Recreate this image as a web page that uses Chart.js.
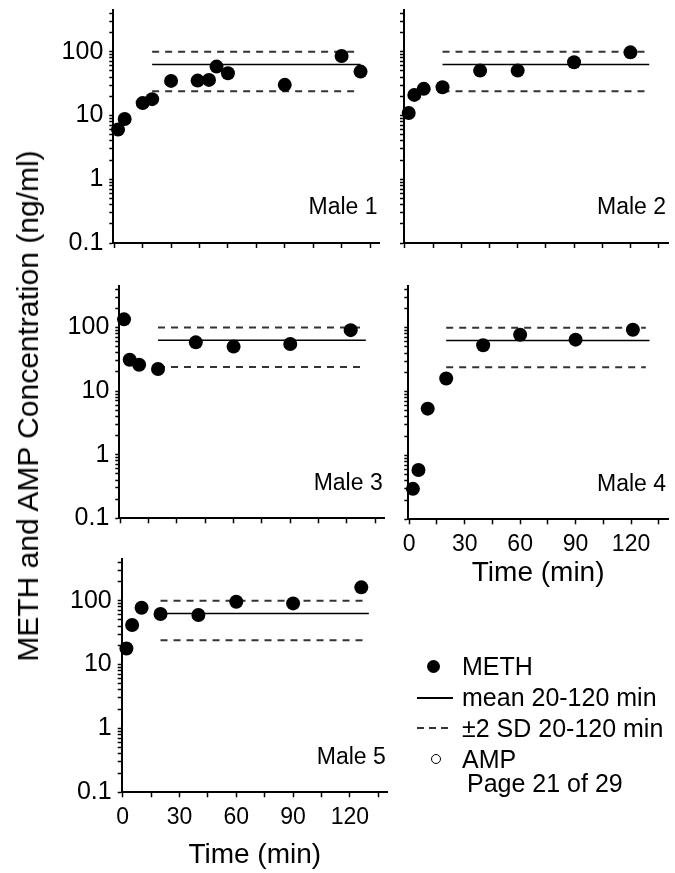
<!DOCTYPE html>
<html>
<head>
<meta charset="utf-8">
<script src="https://cdn.jsdelivr.net/npm/chart.js@4.4.1/dist/chart.umd.min.js"></script>
<style>
  body { margin: 0; background: #fff; font-family: "Liberation Sans", Arial, sans-serif; color: #000; }
  #page { position: relative; width: 675px; height: 873px; overflow: hidden; }
  #page canvas { position: absolute; left: 0; top: 0; }
  .ytitle { position: absolute; left: 28px; top: 406px; transform: translate(-50%, -50%) rotate(-90deg);
            font-size: 30px; line-height: 30px; white-space: nowrap; }
  .lg { position: absolute; font-size: 25px; line-height: 30px; white-space: nowrap; }
  .sym { position: absolute; }
</style>
</head>
<body>
<div id="page">
  <canvas id="male1" width="675" height="873"></canvas>
  <canvas id="male2" width="675" height="873"></canvas>
  <canvas id="male3" width="675" height="873"></canvas>
  <canvas id="male4" width="675" height="873"></canvas>
  <canvas id="male5" width="675" height="873"></canvas>

  <div class="ytitle">METH and AMP Concentration (ng/ml)</div>

  <!-- legend -->
  <div class="sym" style="left:426.5px; top:659.5px; width:13px; height:13px; border-radius:50%; background:#000;"></div>
  <div class="lg" style="left:462px; top:651px;">METH</div>
  <div class="sym" style="left:417px; top:697px; width:36px; height:1.5px; background:#000;"></div>
  <div class="lg" style="left:462px; top:682px;">mean 20-120 min</div>
  <div class="sym" style="left:417px; top:727px; width:31px; height:1.5px; background:repeating-linear-gradient(to right, #333 0 7px, transparent 7px 12px);"></div>
  <div class="lg" style="left:462px; top:713px;">±2 SD 20-120 min</div>
  <div class="sym" style="left:431px; top:754px; width:10px; height:10px; box-sizing:border-box; border:1.5px solid #000; border-radius:50%;"></div>
  <div class="lg" style="left:462px; top:744px;">AMP</div>
  <div class="lg" style="left:467px; top:768px;">Page 21 of 29</div>
</div>

<script>
// sample times (min) and METH concentrations (ng/ml) per subject
const male1Time = [2, 5.5, 15, 20, 30, 44, 50, 54, 60, 90, 120, 130];
const male1Meth = [6.0, 8.8, 15.6, 18.0, 34.8, 35.2, 36.1, 58.3, 45.9, 30.2, 85.7, 48.7];

const male2Time = [2, 5, 10, 20, 40, 60, 90, 120];
const male2Meth = [10.9, 21.0, 26.1, 27.7, 50.5, 50.5, 68.2, 97.6];

const male3Time = [2, 5, 10, 20, 40, 60, 90, 122];
const male3Meth = [134.6, 31.1, 26.0, 22.3, 58.5, 50.1, 55.1, 90.9];

const male4Time = [2, 5, 10, 20, 40, 60, 90, 121];
const male4Meth = [0.30, 0.59, 5.4, 16.0, 53, 77.8, 65, 93];

const male5Time = [2, 5, 10, 20, 40, 60, 90, 126];
const male5Meth = [17.9, 41.6, 77.7, 61.9, 59.7, 96.4, 90.8, 161.8];

// mean and +-2 SD over 20-120 min (same reference band in every panel)
const meanValue = 63;
const sdUpper = 100;
const sdLower = 24;
const bandStart = 20;
const meanEnd = 130;
const sdEnd = 128;

// axis ticks
const xTickValues = [0, 15, 30, 45, 60, 75, 90, 105, 120, 135];
const xLabelValues = [0, 30, 60, 90, 120];
const yDecades = [0.1, 1, 10];
const yTopTicks = [100, 200, 300, 400];

const yTickValues = [];
yDecades.forEach(d => {
    for (let k = 1; k <= 9; k++) yTickValues.push(d * k);
});
yTopTicks.forEach(v => yTickValues.push(v));

Chart.defaults.font.family = '"Liberation Sans", Arial, sans-serif';
Chart.defaults.color = '#000';

// writes "Male N" in the lower right corner of the plot
const panelLabel = {
    id: 'panelLabel',
    afterDraw(chart, args, opts) {
        const { ctx, chartArea } = chart;
        ctx.save();
        ctx.font = '23px "Liberation Sans", Arial, sans-serif';
        ctx.fillStyle = '#000';
        ctx.textAlign = 'right';
        ctx.textBaseline = 'middle';
        ctx.fillText(opts.text, chartArea.right - 2, chartArea.bottom - 35);
        ctx.restore();
    }
};

function isDecade(v) {
    const l = Math.log10(v);
    return Math.abs(l - Math.round(l)) < 1e-9;
}

function makePanel(id, name, times, values, box, showX) {
    const points = times.map((t, i) => ({ x: t, y: values[i] }));
    const hline = (y, x1) => [{ x: bandStart, y: y }, { x: x1, y: y }];

    new Chart(document.getElementById(id), {
        type: 'scatter',
        data: {
            datasets: [
                {
                    label: 'METH',
                    data: points,
                    pointRadius: 7,
                    pointBackgroundColor: '#000',
                    pointBorderWidth: 0,
                    clip: false
                },
                {
                    type: 'line',
                    label: 'mean 20-120 min',
                    data: hline(meanValue, meanEnd),
                    borderColor: '#000',
                    borderWidth: 1.6,
                    pointRadius: 0
                },
                {
                    type: 'line',
                    label: '+2 SD',
                    data: hline(sdUpper, sdEnd),
                    borderColor: '#333',
                    borderWidth: 2,
                    borderDash: [7, 6],
                    pointRadius: 0
                },
                {
                    type: 'line',
                    label: '-2 SD',
                    data: hline(sdLower, sdEnd),
                    borderColor: '#333',
                    borderWidth: 2,
                    borderDash: [7, 6],
                    pointRadius: 0
                }
            ]
        },
        options: {
            responsive: false,
            animation: false,
            events: [],
            layout: {
                padding: { left: 0, top: box.top, right: 675 - box.right, bottom: 873 - box.bottom - box.xh }
            },
            scales: {
                x: {
                    type: 'linear',
                    min: -0.5,
                    max: 140,
                    afterFit: s => {
                        s.height = box.xh;
                        s.paddingLeft = 0;
                        s.paddingRight = 0;
                    },
                    afterBuildTicks: s => { s.ticks = xTickValues.map(v => ({ value: v })); },
                    ticks: {
                        autoSkip: false,
                        maxRotation: 0,
                        padding: 7,
                        font: { size: 23 },
                        callback: v => (showX && xLabelValues.includes(v)) ? String(v) : ''
                    },
                    grid: { drawOnChartArea: false, tickLength: 5, tickWidth: 1.5, tickColor: '#000' },
                    border: { color: '#000', width: 2 },
                    title: { display: showX, text: 'Time (min)', font: { size: 28 }, padding: 0 }
                },
                y: {
                    type: 'logarithmic',
                    min: 0.1,
                    max: 450,
                    afterFit: s => {
                        s.width = box.left;
                        s.paddingTop = 0;
                        s.paddingBottom = 0;
                    },
                    afterBuildTicks: s => { s.ticks = yTickValues.map(v => ({ value: v })); },
                    ticks: {
                        autoSkip: false,
                        padding: 6,
                        font: { size: 25 },
                        callback: v => (box.yLabels && isDecade(v)) ? String(v) : ''
                    },
                    grid: { drawOnChartArea: false, tickLength: 4, tickWidth: 1.5, tickColor: '#000' },
                    border: { color: '#000', width: 2 }
                }
            },
            plugins: {
                legend: { display: false },
                tooltip: { enabled: false },
                panelLabel: { text: name }
            }
        },
        plugins: [panelLabel]
    });
}

makePanel('male1', 'Male 1', male1Time, male1Meth,
    { left: 113.3, right: 379.5, top: 10, bottom: 243, xh: 10, yLabels: true }, false);
makePanel('male2', 'Male 2', male2Time, male2Meth,
    { left: 404, right: 670, top: 10, bottom: 243, xh: 10, yLabels: false }, false);
makePanel('male3', 'Male 3', male3Time, male3Meth,
    { left: 119.3, right: 384.7, top: 286, bottom: 518.3, xh: 10, yLabels: true }, false);
makePanel('male4', 'Male 4', male4Time, male4Meth,
    { left: 408.3, right: 674, top: 286, bottom: 519.3, xh: 70.5, yLabels: false }, true);
makePanel('male5', 'Male 5', male5Time, male5Meth,
    { left: 121.7, right: 387.8, top: 559, bottom: 792.3, xh: 79.5, yLabels: true }, true);
</script>
</body>
</html>
